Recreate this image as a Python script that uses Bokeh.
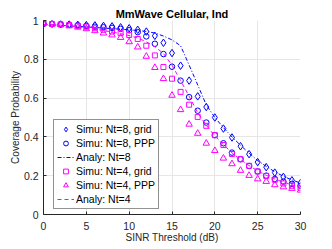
from bokeh.plotting import figure
from bokeh.models import Range1d, FixedTicker, Legend, LegendItem
from bokeh.embed import file_html
from bokeh.resources import INLINE

snr = list(range(0, 31))

simu_nt8_grid = [0.985, 0.983, 0.981, 0.98, 0.978, 0.976, 0.975, 0.972, 0.97, 0.965, 0.96, 0.952, 0.943,
                 0.921, 0.885, 0.832, 0.767, 0.69, 0.609, 0.554, 0.5, 0.443, 0.397, 0.352, 0.311,
                 0.27, 0.244, 0.216, 0.194, 0.176, 0.162]
simu_nt8_ppp = [0.983, 0.982, 0.98, 0.978, 0.975, 0.972, 0.968, 0.965, 0.962, 0.957, 0.95, 0.94, 0.918,
                0.88, 0.827, 0.762, 0.69, 0.605, 0.535, 0.474, 0.409, 0.367, 0.319, 0.285, 0.25,
                0.222, 0.2, 0.183, 0.17, 0.158, 0.148]
analy_nt8 = [0.98, 0.978, 0.975, 0.972, 0.97, 0.967, 0.964, 0.961, 0.958, 0.955, 0.952, 0.948, 0.944,
             0.935, 0.92, 0.9, 0.87, 0.77, 0.668, 0.565, 0.5, 0.448, 0.4, 0.357, 0.316,
             0.278, 0.248, 0.22, 0.197, 0.178, 0.162]
simu_nt4_grid = [0.985, 0.982, 0.98, 0.977, 0.973, 0.968, 0.96, 0.952, 0.943, 0.935, 0.925, 0.905, 0.87,
                 0.82, 0.76, 0.70, 0.632, 0.566, 0.503, 0.457, 0.409, 0.358, 0.312, 0.285, 0.251,
                 0.222, 0.199, 0.179, 0.16, 0.148, 0.138]
simu_nt4_ppp = [0.985, 0.982, 0.978, 0.972, 0.965, 0.957, 0.947, 0.935, 0.925, 0.912, 0.89, 0.863, 0.815,
                0.757, 0.70, 0.614, 0.54, 0.465, 0.418, 0.367, 0.329, 0.29, 0.261, 0.227, 0.201,
                0.183, 0.17, 0.153, 0.142, 0.134, 0.125]
analy_nt4 = [0.98, 0.979, 0.976, 0.972, 0.967, 0.962, 0.956, 0.948, 0.941, 0.932, 0.922, 0.91, 0.89,
             0.865, 0.83, 0.77, 0.69, 0.61, 0.525, 0.46, 0.405, 0.36, 0.318, 0.283, 0.252,
             0.225, 0.202, 0.183, 0.167, 0.153, 0.14]

x_ticks = [0, 5, 10, 15, 20, 25, 30]
y_ticks = [0, 0.2, 0.4, 0.6, 0.8, 1]
y_tick_labels = ["0", "0.2", "0.4", "0.6", "0.8", "1"]

FONT = "Liberation Sans"
TXT = "#262626"
BLUE = "#0000ff"
MAG = "#ff00ff"

p = figure(width=324, height=245, output_backend="svg", toolbar_location=None,
           x_range=Range1d(0, 30), y_range=Range1d(0, 1),
           min_border_left=43, min_border_right=24, min_border_top=20, min_border_bottom=30,
           title="MmWave Cellular, Ind")
p.title.align = "center"
p.title.text_font = FONT
p.title.text_font_size = "11px"
p.title.text_font_style = "bold"
p.title.text_color = "#000000"
p.title.standoff = 2
p.outline_line_color = None
p.background_fill_color = "white"

p.xaxis.ticker = FixedTicker(ticks=x_ticks)
p.yaxis.ticker = FixedTicker(ticks=y_ticks)
p.yaxis.major_label_overrides = {t: l for t, l in zip(y_ticks, y_tick_labels)}
for ax in (p.xaxis, p.yaxis):
    ax.axis_line_color = TXT
    ax.major_tick_line_color = TXT
    ax.major_tick_in = 3
    ax.major_tick_out = 0
    ax.minor_tick_line_color = None
    ax.major_label_text_font = FONT
    ax.major_label_text_font_size = "10.5px"
    ax.major_label_text_color = TXT
    ax.axis_label_text_font = FONT
    ax.axis_label_text_font_size = "10px"
    ax.axis_label_text_font_style = "normal"
    ax.axis_label_text_color = TXT
p.xaxis.axis_label = "SINR Threshold (dB)"
p.yaxis.axis_label = "Coverage Probability"
p.xaxis.major_label_standoff = 7
p.yaxis.major_label_standoff = 5
p.xaxis.axis_label_standoff = -1
p.yaxis.axis_label_standoff = 0

p.grid.grid_line_color = "#e6e6e6"
p.grid.grid_line_width = 1

r1 = p.scatter(snr, simu_nt8_grid, marker="diamond", size=7.5, fill_color=None, line_color=BLUE, line_width=1)
r2 = p.scatter(snr, simu_nt8_ppp, marker="circle", size=5.5, fill_color=None, line_color=BLUE, line_width=1)
r3 = p.line(snr, analy_nt8, line_color=BLUE, line_width=1, line_dash="4 2 1 2")
r4 = p.scatter(snr, simu_nt4_grid, marker="square", size=5, fill_color=None, line_color=MAG, line_width=1)
r5 = p.scatter(snr, simu_nt4_ppp, marker="triangle", size=6.5, fill_color=None, line_color=MAG, line_width=1)
r6 = p.line(snr, analy_nt4, line_color=MAG, line_width=1, line_dash="4 3")

legend = Legend(items=[
    LegendItem(label="Simu: Nt=8, grid", renderers=[r1]),
    LegendItem(label="Simu: Nt=8, PPP", renderers=[r2]),
    LegendItem(label="Analy: Nt=8", renderers=[r3]),
    LegendItem(label="Simu: Nt=4, grid", renderers=[r4]),
    LegendItem(label="Simu: Nt=4, PPP", renderers=[r5]),
    LegendItem(label="Analy: Nt=4", renderers=[r6]),
], location=(10, 5))
legend.border_line_color = TXT
legend.border_line_width = 1
legend.background_fill_color = "white"
legend.background_fill_alpha = 1
legend.label_text_font = FONT
legend.label_text_font_size = "10.5px"
legend.label_text_color = "#000000"
legend.glyph_width = 17
legend.glyph_height = 12
legend.label_height = 12
legend.label_standoff = 2
legend.spacing = 2
legend.padding = 3
legend.margin = 0
p.add_layout(legend, "center")

open("out.html", "w").write(file_html(p, INLINE))
